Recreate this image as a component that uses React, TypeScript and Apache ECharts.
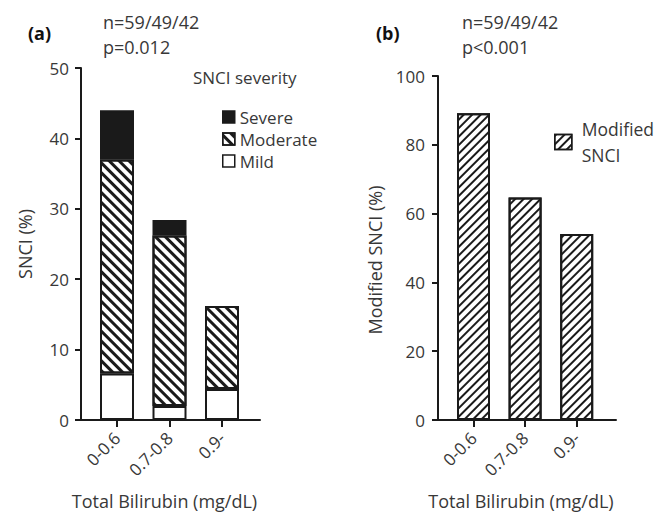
import React, { useEffect, useRef } from "react";
import * as echarts from "echarts";

const categories = ["0-0.6", "0.7-0.8", "0.9-"];
const mildValues = [6.6, 2.0, 4.4];
const moderateValues = [30.4, 24.2, 11.8];
const severeValues = [7.0, 2.2, 0];
const modifiedValues = [89.2, 64.7, 54.1];

const FONT = "'Open Sans', 'Noto Sans', sans-serif";
const TXT = "#383838";
const INK = "#1a1a1a";

export default function App() {
  const ref = useRef<HTMLDivElement>(null);
  useEffect(() => {
    if (!ref.current) return;
    const chart = echarts.init(ref.current, null, { renderer: "svg" });
    const axisLine = { show: true, onZero: false, lineStyle: { color: INK, width: 2 } };
    const tickStyle = { color: INK, width: 2 };
    const labelStyle = { color: TXT, fontSize: 17, fontFamily: FONT };
    const nameStyle = { color: TXT, fontSize: 18, fontFamily: FONT };
    const hatchA = {
      symbol: "rect",
      color: INK,
      dashArrayX: [1, 0],
      dashArrayY: [2.1, 3.1],
      rotation: Math.PI / 4,
    };
    const hatchB = {
      symbol: "rect",
      color: INK,
      dashArrayX: [1, 0],
      dashArrayY: [1.9, 3.3],
      rotation: -Math.PI / 4,
    };
    const border = { borderColor: INK, borderWidth: 2 };
    const frameX = (gridIndex: number) => ({
      gridIndex,
      type: "value",
      min: 0,
      max: 1,
      axisLine,
      axisTick: { show: false },
      axisLabel: { show: false },
      splitLine: { show: false },
      name: "Total Bilirubin (mg/dL)",
      nameLocation: "middle",
      nameGap: 72,
      nameTextStyle: { ...nameStyle, padding: [0, 12, 0, 0] },
    });
    const catX = (gridIndex: number) => ({
      gridIndex,
      type: "category",
      data: categories,
      axisLine: { show: false },
      axisTick: { show: true, alignWithLabel: true, length: 7, lineStyle: tickStyle },
      axisLabel: { ...labelStyle, rotate: 45, margin: 15 },
      splitLine: { show: false },
    });
    const text = (t: string, x: number, y: number, bold = false, size = 18) => ({
      type: "text",
      x,
      y,
      style: {
        text: t,
        fill: bold ? "#111" : TXT,
        font: `${bold ? "bold " : ""}${size}px ${FONT}`,
        verticalAlign: "middle",
        align: "left",
      },
    });
    chart.setOption({
      animation: false,
      backgroundColor: "#fff",
      grid: [
        { left: 81, top: 68, width: 179, height: 352, outerBoundsMode: "none", containLabel: false },
        { left: 90.75, top: 68, width: 157.5, height: 352, outerBoundsMode: "none", containLabel: false },
        { left: 438, top: 76, width: 178, height: 344, outerBoundsMode: "none", containLabel: false },
        { left: 447.7, top: 76, width: 154.8, height: 344, outerBoundsMode: "none", containLabel: false },
      ],
      xAxis: [frameX(0), catX(1), frameX(2), catX(3)],
      yAxis: [
        {
          gridIndex: 0,
          type: "value",
          min: 0,
          max: 50,
          interval: 10,
          axisLine,
          axisTick: { show: true, length: 6, lineStyle: tickStyle },
          axisLabel: { ...labelStyle, margin: 12 },
          splitLine: { show: false },
          name: "SNCI (%)",
          nameLocation: "middle",
          nameGap: 47,
          nameTextStyle: nameStyle,
        },
        { gridIndex: 1, type: "value", min: 0, max: 50, show: false, splitLine: { show: false } },
        {
          gridIndex: 2,
          type: "value",
          min: 0,
          max: 100,
          interval: 20,
          axisLine,
          axisTick: { show: true, length: 6, lineStyle: tickStyle },
          axisLabel: { ...labelStyle, margin: 13 },
          splitLine: { show: false },
          name: "Modified SNCI (%)",
          nameLocation: "middle",
          nameGap: 54,
          nameTextStyle: { ...nameStyle, padding: [0, 24, 0, 0] },
        },
        { gridIndex: 3, type: "value", min: 0, max: 100, show: false, splitLine: { show: false } },
      ],
      legend: [
        {
          data: ["Severe", "Moderate", "Mild"],
          orient: "vertical",
          left: 217,
          top: 102,
          icon: "rect",
          itemWidth: 12,
          itemHeight: 12,
          itemGap: 2,
          selectedMode: false,
          itemStyle: { borderColor: INK, borderWidth: 1.5 },
          textStyle: { color: TXT, fontSize: 17, lineHeight: 20, fontFamily: FONT },
        },
        {
          data: ["Modified SNCI"],
          left: 549,
          top: 111,
          icon: "rect",
          itemWidth: 17,
          itemHeight: 15,
          selectedMode: false,
          formatter: () => "Modified\nSNCI",
          itemStyle: { borderColor: INK, borderWidth: 1.5 },
          textStyle: {
            color: TXT,
            fontSize: 17.5,
            lineHeight: 26,
            fontFamily: FONT,
            padding: [0, 0, 0, 5],
          },
        },
      ],
      graphic: [
        text("(a)", 28, 33, true),
        text("n=59/49/42", 103, 22),
        text("p=0.012", 103, 47),
        text("SNCI severity", 193, 77, false, 17),
        text("(b)", 376, 33, true),
        text("n=59/49/42", 462, 22),
        text("p<0.001", 462, 47),
      ],
      series: [
        {
          name: "Mild",
          type: "bar",
          xAxisIndex: 1,
          yAxisIndex: 1,
          stack: "sev",
          barWidth: 34,
          data: mildValues,
          itemStyle: { color: "#fff", ...border },
        },
        {
          name: "Moderate",
          type: "bar",
          xAxisIndex: 1,
          yAxisIndex: 1,
          stack: "sev",
          barWidth: 34,
          data: moderateValues,
          itemStyle: { color: "#fff", decal: hatchA, ...border },
        },
        {
          name: "Severe",
          type: "bar",
          xAxisIndex: 1,
          yAxisIndex: 1,
          stack: "sev",
          barWidth: 34,
          data: severeValues.map((v) => (v > 0 ? v : "-")),
          itemStyle: { color: INK, ...border },
        },
        {
          name: "Modified SNCI",
          type: "bar",
          xAxisIndex: 3,
          yAxisIndex: 3,
          barWidth: 33,
          data: modifiedValues,
          itemStyle: { color: "#fff", decal: hatchB, ...border },
        },
      ],
    });
    return () => chart.dispose();
  }, []);
  return (
    <div
      ref={ref}
      style={{ position: "fixed", left: 0, top: 0, width: 665, height: 514 }}
    />
  );
}
